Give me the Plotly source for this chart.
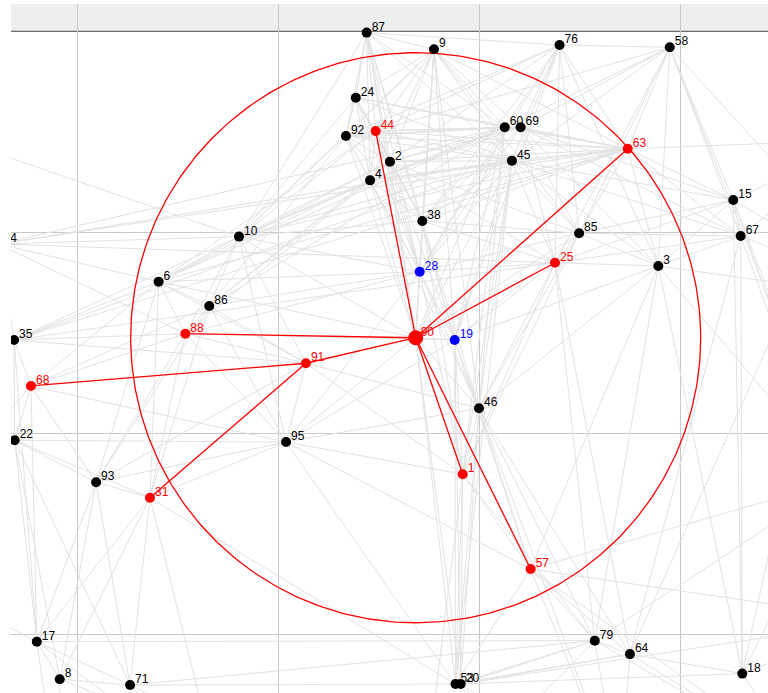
import numpy as np
import plotly.graph_objects as go

# ---- network data -------------------------------------------------------
# node ids and layout positions (layout units; y grows downward)
node_ids = [87, 9, 76, 58, 24, 92, 44, 2, 4, 60, 69, 45, 63, 15, 38, 85, 67,
            10, 28, 25, 3, 6, 86, 35, 88, 90, 19, 91, 68, 46, 22, 95, 1, 93,
            31, 57, 17, 79, 64, 18, 8, 71, 53, 20,
            # nodes laid out beyond the visible window
            14, 29, 11, 33, 40, 30, 5, 12, 26, 39, 7, 21]
node_x = [144.1, 177.6, 240.1, 294.9, 138.7, 133.8, 148.6, 155.7, 145.8, 212.8,
          220.7, 216.4, 274.0, 326.5, 171.8, 249.8, 330.2, 80.6, 170.5, 237.8,
          289.2, 40.6, 65.8, -31.3, 53.9, 168.5, 187.9, 113.9, -22.9, 200.0,
          -31.0, 104.0, 191.9, 9.5, 36.3, 225.7, -20.0, 257.6, 275.1, 331.0,
          -8.6, 26.4, 188.3, 190.9,
          -39.0, -88.1, 389.6, 409.5, 379.6, 399.5, 359.7, 270.1, 170.6, 71.1,
          -8.5, -98.0]
node_y = [0.8, 9.1, 7.0, 8.1, 33.2, 52.2, 49.8, 65.0, 74.3, 47.9, 47.9, 64.5,
          58.6, 84.1, 94.5, 100.6, 102.0, 102.3, 119.8, 115.3, 116.9, 124.7,
          136.8, 153.7, 150.6, 152.6, 153.7, 165.3, 176.6, 187.7, 203.6, 204.5,
          220.5, 224.5, 232.2, 267.7, 303.8, 303.3, 310.0, 319.7, 322.5, 325.4,
          324.9, 324.9,
          106.0, 44.3, 54.2, 133.8, 223.4, 293.0, 362.7, 377.6, 392.5, 372.6,
          382.6, 263.2]

# selected node, its neighbourhood and the probe nodes
hub = 90
neighbours = [44, 63, 25, 88, 91, 1, 57, 68, 31]
probes = [28, 19]
search_radius = 141.8

# edges of the selected path tree
path_edges = [(90, 44), (90, 63), (90, 25), (90, 88), (90, 91), (90, 1),
              (90, 57), (91, 68), (91, 31)]

# remaining edges of the graph
other_edges = [
    (87, 24), (87, 92), (87, 44), (87, 2), (87, 4), (87, 38), (87, 28), (87, 9),
    (87, 90), (87, 45), (87, 60), (87, 10), (87, 76), (87, 19),
    (9, 44), (9, 2), (9, 4), (9, 38), (9, 28), (9, 92), (9, 24), (9, 60),
    (9, 45), (9, 63), (9, 90), (9, 19), (9, 46), (9, 69), (9, 10), (9, 85),
    (76, 60), (76, 69), (76, 45), (76, 2), (76, 44), (76, 63), (76, 85),
    (76, 25), (76, 3), (76, 38), (76, 28), (76, 19), (76, 92), (76, 58),
    (58, 63), (58, 60), (58, 69), (58, 45), (58, 15), (58, 67), (58, 3),
    (58, 85), (58, 25), (58, 33), (58, 40), (58, 44),
    (63, 60), (63, 69), (63, 45), (63, 2), (63, 44), (63, 4), (63, 92),
    (63, 15), (63, 67), (63, 3), (63, 85), (63, 10), (63, 38), (63, 24),
    (63, 11), (63, 6),
    (60, 44), (60, 2), (60, 92), (60, 24), (60, 4), (60, 38), (60, 28),
    (60, 90), (60, 19), (60, 46), (60, 1), (60, 10), (60, 6), (60, 86), (60, 69),
    (69, 2), (69, 44), (69, 4), (69, 38), (69, 85), (69, 25), (69, 15),
    (69, 67), (69, 28), (69, 3), (69, 92),
    (45, 2), (45, 44), (45, 4), (45, 92), (45, 38), (45, 28), (45, 90),
    (45, 19), (45, 46), (45, 1), (45, 53), (45, 85), (45, 25), (45, 3),
    (45, 67), (45, 15), (45, 10), (45, 24),
    (24, 92), (24, 44), (24, 2), (24, 4), (24, 38), (24, 10), (24, 28),
    (92, 44), (92, 2), (92, 4), (92, 38), (92, 28), (92, 10), (92, 90), (92, 86),
    (44, 2), (44, 4), (44, 38), (44, 28), (44, 10), (44, 6),
    (2, 4), (2, 38), (2, 28), (2, 90), (2, 19), (2, 10), (2, 6), (2, 86),
    (2, 85), (2, 25),
    (4, 38), (4, 28), (4, 90), (4, 10), (4, 6), (4, 86), (4, 88), (4, 46),
    (15, 67), (15, 3), (15, 25), (15, 85), (15, 18), (15, 11), (15, 33),
    (15, 40), (15, 30),
    (67, 3), (67, 25), (67, 85), (67, 18), (67, 64), (67, 33), (67, 11), (67, 30),
    (3, 85), (3, 25), (3, 79), (3, 18), (3, 33), (3, 40), (3, 57), (3, 46), (3, 19),
    (85, 25), (85, 28), (85, 90), (85, 19), (85, 46), (85, 38), (85, 1),
    (25, 28), (25, 19), (25, 46), (25, 1), (25, 38), (25, 79), (25, 64),
    (38, 28), (38, 90), (38, 19), (38, 10), (38, 46), (38, 1),
    (28, 90), (28, 19), (28, 10), (28, 6), (28, 86), (28, 88), (28, 46),
    (28, 1), (28, 95),
    (19, 90), (19, 46), (19, 1), (19, 53), (19, 57), (19, 20), (19, 95),
    (90, 46), (90, 53), (90, 10), (90, 6), (90, 95), (90, 20),
    (46, 1), (46, 53), (46, 20), (46, 57), (46, 79), (46, 64), (46, 95), (46, 12),
    (1, 53), (1, 20), (1, 57), (1, 79), (1, 95), (1, 26),
    (10, 6), (10, 86), (10, 88), (10, 91), (10, 95), (10, 14), (10, 35), (10, 29),
    (6, 86), (6, 88), (6, 35), (6, 14), (6, 68), (6, 93), (6, 91), (6, 31),
    (86, 88), (86, 91), (86, 95), (86, 31), (86, 93),
    (88, 35), (88, 68), (88, 31), (88, 93), (88, 91), (88, 95), (88, 19), (88, 14),
    (35, 68), (35, 22), (35, 91), (35, 63), (35, 45), (35, 17), (35, 14), (35, 25),
    (14, 45), (14, 63), (14, 25), (14, 60),
    (68, 22), (68, 93), (68, 17), (68, 86), (68, 95), (68, 21),
    (22, 93), (22, 17), (22, 95), (22, 31), (22, 71), (22, 8), (22, 21),
    (93, 31), (93, 17), (93, 8), (93, 71), (93, 95), (93, 91),
    (31, 17), (31, 8), (31, 71), (31, 95), (31, 53), (31, 39),
    (95, 91), (95, 57), (95, 53),
    (91, 46), (91, 1),
    (17, 8), (17, 71), (17, 7), (17, 79), (17, 39), (17, 21),
    (8, 71), (8, 7), (8, 26),
    (71, 39), (71, 79), (71, 26), (71, 53),
    (53, 20), (53, 79), (53, 64), (53, 57), (53, 18), (53, 26), (53, 12),
    (20, 79), (20, 64), (20, 30), (20, 12),
    (57, 79), (57, 64), (57, 30), (57, 40), (57, 12), (57, 5),
    (79, 64), (79, 12), (79, 5), (79, 40), (79, 26),
    (64, 18), (64, 5), (64, 12), (64, 11),
    (18, 5), (18, 30), (18, 40), (18, 11),
]

# visible window of the canvas (layout units)
x_view = [-32.84, 343.78]
y_view = [-13.43, 329.35]

# ---- styling ------------------------------------------------------------
RED = "#ff0000"
BLUE = "#0000ff"
BLACK = "#000000"
EDGE_GREY = "#e2e2e2"
GRID_GREY = "#c8c8c8"
FONT = "Liberation Sans, Arial, sans-serif"
PX = 2.01  # screen pixels per layout unit

pos = {n: (x, y) for n, x, y in zip(node_ids, node_x, node_y)}


def segments(edges):
    xs, ys = [], []
    for a, b in edges:
        xs += [pos[a][0], pos[b][0], None]
        ys += [pos[a][1], pos[b][1], None]
    return xs, ys


def colour_of(n):
    if n == hub or n in neighbours:
        return RED
    if n in probes:
        return BLUE
    return BLACK


fig = go.Figure()

# background edges
ex, ey = segments(other_edges)
fig.add_trace(go.Scatter(x=ex, y=ey, mode="lines",
                         line=dict(color=EDGE_GREY, width=1),
                         hoverinfo="skip", showlegend=False))

# search radius around the selected node
t = np.linspace(0, 2 * np.pi, 361)
cx, cy = pos[hub]
fig.add_trace(go.Scatter(x=cx + search_radius * np.cos(t),
                         y=cy + search_radius * np.sin(t),
                         mode="lines", line=dict(color=RED, width=1.3),
                         hoverinfo="skip", showlegend=False))

# highlighted edges
px_, py_ = segments(path_edges)
fig.add_trace(go.Scatter(x=px_, y=py_, mode="lines",
                         line=dict(color=RED, width=1.3),
                         hoverinfo="skip", showlegend=False))

# node labels (drawn under the node dots); only labels whose text reaches
# into the visible window are placed
lab_x, lab_y, lab_t, lab_c = [], [], [], []
for n, x, y in zip(node_ids, node_x, node_y):
    lx, ly = x + 5 / PX, y + 1 / PX
    if lx + 14 / PX < x_view[0] or lx > x_view[1] or ly > y_view[1] + 10 / PX:
        continue
    lab_x.append(lx)
    lab_y.append(ly)
    lab_t.append(str(n))
    lab_c.append(colour_of(n))
fig.add_trace(go.Scatter(
    x=lab_x, y=lab_y, mode="text", text=lab_t, textposition="top right",
    textfont=dict(family=FONT, size=12, color=lab_c),
    hoverinfo="skip", showlegend=False, cliponaxis=True))

# node dots
colours = [colour_of(n) for n in node_ids]
sizes = [15 if n == hub else 10 for n in node_ids]
fig.add_trace(go.Scatter(
    x=node_x, y=node_y, mode="markers",
    marker=dict(size=sizes, color=colours, opacity=1, line=dict(width=0)),
    hoverinfo="skip", showlegend=False, cliponaxis=True))

# toolbar strip and its border above the canvas
fig.add_shape(type="rect", xref="paper", x0=0, x1=1, yref="y",
              y0=y_view[0], y1=0, fillcolor="#eeeeee",
              line=dict(width=0), layer="between")
fig.add_shape(type="line", xref="paper", x0=0, x1=1, yref="y",
              y0=0, y1=0, line=dict(color="#6e6e6e", width=2),
              layer="between")

fig.update_layout(
    width=768, height=693,
    margin=dict(l=11, r=0, t=4, b=0),
    paper_bgcolor="white", plot_bgcolor="white",
    showlegend=False,
    xaxis=dict(range=x_view, tickvals=[0, 100, 200, 300],
               showticklabels=False, showgrid=True, gridcolor=GRID_GREY,
               gridwidth=1, zeroline=False, showline=False, ticks=""),
    yaxis=dict(range=y_view[::-1], tickvals=[0, 100, 200, 300],
               showticklabels=False, showgrid=True, gridcolor=GRID_GREY,
               gridwidth=1, zeroline=False, showline=False, ticks=""),
)

fig.write_html("out.html")
